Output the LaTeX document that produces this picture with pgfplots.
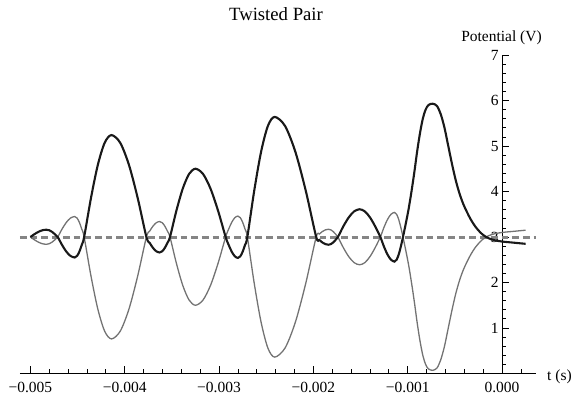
\documentclass[border=0pt]{standalone}
\usepackage{fontspec}
\setmainfont{Liberation Serif}
\usepackage{pgfplots}
\usepackage{pgfplotstable}
\pgfplotsset{compat=1.18}

\pgfplotstableread{
t b g
-0.0050000 3.000 3.000
-0.0049575 3.061 2.939
-0.0049150 3.113 2.887
-0.0048725 3.148 2.852
-0.0048300 3.160 2.840
-0.0048000 3.148 2.852
-0.0047700 3.113 2.887
-0.0047400 3.061 2.939
-0.0047100 3.000 3.000
-0.0046650 2.828 3.172
-0.0046200 2.682 3.318
-0.0045750 2.584 3.416
-0.0045300 2.550 3.450
-0.0045050 2.584 3.416
-0.0044800 2.682 3.318
-0.0044550 2.828 3.172
-0.0044300 3.000 3.000
-0.0043575 3.858 2.142
-0.0042850 4.584 1.416
-0.0042125 5.070 0.930
-0.0041400 5.240 0.760
-0.0040475 5.070 0.930
-0.0039550 4.584 1.416
-0.0038625 3.858 2.142
-0.0037700 3.000 3.000
-0.0037350 2.870 3.130
-0.0037000 2.760 3.240
-0.0036650 2.686 3.314
-0.0036300 2.660 3.340
-0.0036025 2.686 3.314
-0.0035750 2.760 3.240
-0.0035475 2.870 3.130
-0.0035200 3.000 3.000
-0.0034525 3.575 2.425
-0.0033850 4.061 1.939
-0.0033175 4.386 1.614
-0.0032500 4.500 1.500
-0.0031700 4.386 1.614
-0.0030900 4.061 1.939
-0.0030100 3.575 2.425
-0.0029300 3.000 3.000
-0.0028975 2.824 3.176
-0.0028650 2.675 3.325
-0.0028325 2.575 3.425
-0.0028000 2.540 3.460
-0.0027750 2.575 3.425
-0.0027500 2.675 3.325
-0.0027250 2.824 3.176
-0.0027000 3.000 3.000
-0.0026275 4.011 1.989
-0.0025550 4.866 1.134
-0.0024825 5.439 0.561
-0.0024100 5.640 0.360
-0.0023000 5.439 0.561
-0.0021900 4.866 1.134
-0.0020800 4.011 1.989
-0.0019700 3.000 3.000
-0.0019375 2.935 3.065
-0.0019050 2.880 3.120
-0.0018725 2.843 3.157
-0.0018400 2.830 3.170
-0.0018150 2.843 3.157
-0.0017900 2.880 3.120
-0.0017650 2.935 3.065
-0.0017400 3.000 3.000
-0.0016825 3.234 2.766
-0.0016250 3.431 2.569
-0.0015675 3.564 2.436
-0.0015100 3.610 2.390
-0.0014550 3.564 2.436
-0.0014000 3.431 2.569
-0.0013450 3.234 2.766
-0.0012900 3.000 3.000
-0.0012525 2.793 3.207
-0.0012150 2.618 3.382
-0.0011775 2.501 3.499
-0.0011400 2.460 3.540
-0.0011175 2.501 3.499
-0.0010950 2.618 3.382
-0.0010725 2.793 3.207
-0.0010500 3.000 3.000
-0.0010200 3.300 2.700
-0.0009900 3.620 2.380
-0.0009600 4.000 2.000
-0.0009300 4.420 1.580
-0.0009000 4.880 1.120
-0.0008700 5.280 0.720
-0.0008400 5.600 0.400
-0.0008100 5.800 0.200
-0.0007800 5.900 0.100
-0.0007350 5.930 0.070
-0.0006900 5.880 0.120
-0.0006500 5.700 0.300
-0.0006100 5.400 0.600
-0.0005700 5.000 1.000
-0.0005300 4.600 1.400
-0.0004900 4.240 1.760
-0.0004500 3.950 2.050
-0.0004100 3.720 2.280
-0.0003700 3.540 2.460
-0.0003300 3.380 2.620
-0.0002800 3.220 2.780
-0.0002300 3.100 2.900
-0.0001900 3.030 2.970
-0.0001400 2.970 3.030
-0.0000800 2.930 3.070
0.0000000 2.900 3.100
0.0001000 2.880 3.120
0.0002500 2.850 3.150
}\pairdata

\begin{document}
\begin{tikzpicture}
\path[use as bounding box] (0,0) rectangle (573pt,396pt);
\begin{axis}[
  at={(20pt,22.5pt)}, anchor=south west,
  scale only axis, width=516pt, height=318.5pt,
  xmin=-0.00511, xmax=0.00036, ymin=0, ymax=7,
  axis lines=middle,
  axis line style={-, black, line width=0.9pt},
  hide obscured x ticks=false, hide obscured y ticks=false,
  clip=false,
  xtick={-0.005,-0.004,-0.003,-0.002,-0.001,0},
  xticklabels={−0.005,−0.004,−0.003,−0.002,−0.001,0.000},
  minor xtick={-0.0048,-0.0046,-0.0044,-0.0042,-0.0038,-0.0036,-0.0034,-0.0032,-0.0028,-0.0026,-0.0024,-0.0022,-0.0018,-0.0016,-0.0014,-0.0012,-0.0008,-0.0006,-0.0004,-0.0002,0.0002},
  ytick={1,2,3,4,5,6,7},
  yticklabels={1,2,3,4,5,6,7},
  minor ytick={0.2,0.4,0.6,0.8,1.2,1.4,1.6,1.8,2.2,2.4,2.6,2.8,3.2,3.4,3.6,3.8,4.2,4.4,4.6,4.8,5.2,5.4,5.6,5.8,6.2,6.4,6.6,6.8},
  tick align=inside,
  major tick length=7.3pt, minor tick length=4.3pt,
  tick style={black, line width=0.8pt},
  /pgf/number format/assume math mode=true,
  tick label style={font=\fontsize{15.5}{18}\selectfont, black},
  xticklabel style={yshift=-5pt},
  scaled x ticks=false,
]
\addplot[color=black!48, line width=3pt, dash pattern=on 6.7pt off 4pt] coordinates {(-0.00511,3) (0.00036,3)};
\addplot[color=black!55, line width=1.3pt, smooth] table[x=t, y=g] {\pairdata};
\addplot[color=black!90, line width=2.1pt, smooth] table[x=t, y=b] {\pairdata};
\end{axis}
\node[anchor=base, font=\fontsize{18.7}{22}\selectfont] at (276pt,375.3pt) {Twisted Pair};
\node[anchor=base, font=\fontsize{15.5}{18}\selectfont] at (501.5pt,354.3pt) {Potential (V)};
\node[anchor=base west, inner sep=0pt, font=\fontsize{15.5}{18}\selectfont] at (547pt,15pt) {t (s)};
\end{tikzpicture}
\end{document}
